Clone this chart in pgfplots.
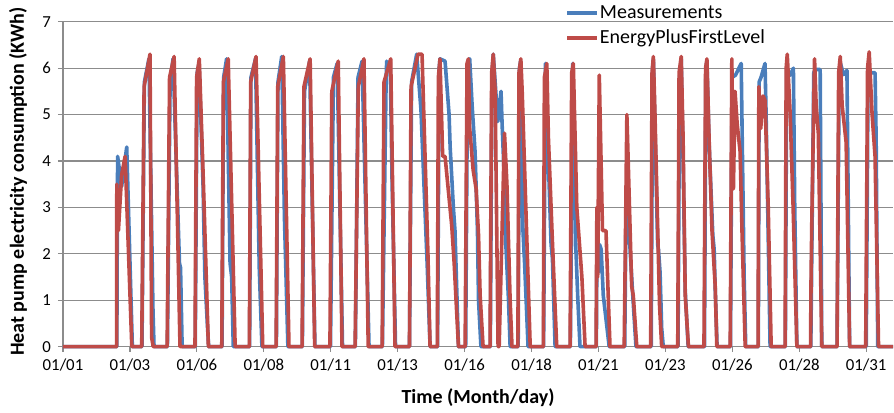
\documentclass[border=0pt]{standalone}
\usepackage{fontspec}
\setmainfont{Carlito}
\usepackage{pgfplots}
\pgfplotsset{compat=1.18}
\usepackage{pgfplotstable}
\definecolor{meas}{HTML}{4A7EBB}
\definecolor{eplus}{HTML}{BE4B48}
\definecolor{gridgray}{HTML}{8C8C8C}

% day of January (0 = 01/01 00:00), hourly energy in kWh
\pgfplotstableread{
day kwh
0 0
2.01 0
2.04 4.1
2.19 3.45
2.38 4.3
2.59 0
2.95 0
3.04 5.7
3.21 6.2
3.36 0.8
3.40 0
3.90 0
4.00 5.7
4.11 6.2
4.35 1.8
4.39 1.7
4.45 0
4.94 0
5.01 5.9
5.08 6.1
5.23 3.5
5.30 1.5
5.39 0.5
5.44 0
5.94 0
6.00 5.8
6.11 6.2
6.24 1.8
6.30 1.5
6.36 0
6.97 0
7.02 5.8
7.19 6.2
7.33 1.7
7.43 0
7.97 0
8.03 5.7
8.17 6.25
8.27 2.8
8.40 0
8.94 0
9.02 5.5
9.21 6.15
9.41 0
9.99 0
10.10 5.8
10.24 6.1
10.44 0
10.92 0
11.02 5.8
11.17 6.15
11.43 0
11.93 0
12.07 5.8
12.09 6.15
12.14 6.0
12.22 6.15
12.29 3.6
12.42 0
12.94 0
13.02 5.7
13.21 6.3
13.37 5.1
13.60 1.8
13.71 0
13.99 0
14.05 6.0
14.08 6.2
14.27 6.15
14.42 5.0
14.46 4.3
14.58 3.0
14.64 2.5
14.77 0
15.04 0
15.11 6.0
15.19 6.2
15.28 5.2
15.39 4.2
15.48 2.5
15.52 1.0
15.61 0
15.96 0
16.02 5.8
16.07 6.3
16.24 4.85
16.36 5.5
16.40 4.8
16.49 3.5
16.54 2.2
16.64 1.0
16.70 0
17.00 0
17.05 6.0
17.09 6.15
17.18 2.5
17.24 1.8
17.37 0
17.95 0
18.02 6.1
18.10 4.5
18.23 2.2
18.28 1.9
18.38 0
18.95 0
19.04 6.1
19.15 2.2
19.23 1.0
19.31 0
19.92 0
19.95 2.9
19.99 1.6
20.04 2.2
20.10 2.1
20.18 1.1
20.28 0.6
20.40 0
20.98 0
21.03 3.0
21.07 3.5
21.14 2.5
21.26 1.3
21.40 0
21.97 0
22.02 6.0
22.05 6.2
22.21 2.2
22.24 2.1
22.30 1.6
22.36 0.4
22.42 0
22.97 0
23.03 5.8
23.09 6.2
23.16 4.0
23.24 1.2
23.35 0
23.96 0
24.01 6.0
24.05 6.15
24.13 4.4
24.27 2.4
24.32 2.1
24.36 1.25
24.43 0
24.93 0
24.99 5.8
25.12 5.85
25.33 6.1
25.38 4.0
25.44 1.5
25.50 0
25.97 0
26.00 5.7
26.07 5.8
26.22 6.1
26.26 5.0
26.41 0
26.98 0
27.03 6.0
27.08 5.9
27.16 5.85
27.28 6.0
27.33 3.0
27.41 0
27.93 0
28.04 5.9
28.09 5.97
28.28 5.97
28.34 0
28.91 0
28.99 5.9
29.04 6.1
29.15 5.86
29.28 5.95
29.38 0
30.00 0
30.07 5.9
30.15 5.9
30.33 5.9
30.37 4.5
30.43 0
31 0
}\measured

\pgfplotstableread{
day kwh
0 0
2.00 0
2.01 3.5
2.07 2.5
2.19 3.7
2.32 4.1
2.57 0
2.94 0
3.03 5.6
3.25 6.3
3.31 0.2
3.37 0
3.89 0
3.98 5.8
4.15 6.25
4.37 0
4.93 0
4.99 5.8
5.09 6.2
5.24 3.6
5.43 0
5.93 0
5.99 5.7
6.17 6.2
6.43 0
6.96 0
7.01 5.7
7.21 6.25
7.46 0
7.96 0
8.02 5.6
8.23 6.25
8.44 0
8.93 0
9.00 5.6
9.23 6.2
9.40 0
9.97 0
10.04 5.5
10.28 6.15
10.42 0
10.91 0
11.03 5.6
11.24 6.2
11.40 0
11.92 0
11.99 5.7
12.24 6.2
12.40 0
12.94 0
13.00 5.6
13.26 6.3
13.41 6.3
13.63 2.0
13.71 0
13.98 0
14.02 5.8
14.08 6.2
14.18 4.1
14.27 4.1
14.52 2.6
14.61 1.8
14.77 0
15.02 0
15.09 6.1
15.14 6.2
15.19 4.7
15.32 3.8
15.43 3.4
15.52 2.4
15.58 1.1
15.69 0
15.95 0
16.01 5.9
16.07 6.3
16.14 5.5
16.25 0
16.29 0
16.49 4.6
16.58 3.5
16.70 1.0
16.77 0
16.99 0
17.03 5.9
17.10 6.2
17.15 5.5
17.45 0
17.94 0
17.98 5.8
18.07 6.1
18.13 4.5
18.27 2.4
18.44 0
18.94 0
19.00 5.9
19.06 6.1
19.19 3.0
19.38 1.5
19.50 0
19.91 0
19.94 3.0
19.97 1.5
20.03 5.85
20.15 2.5
20.28 2.5
20.43 0
20.96 0
21.06 5.0
21.11 4.0
21.24 1.3
21.30 1.1
21.43 0
21.95 0
22.00 5.9
22.05 6.25
22.11 5.0
22.28 0.9
22.36 0
22.96 0
23.01 5.9
23.09 6.25
23.16 4.5
23.24 1.1
23.36 0
23.94 0
24.00 6.0
24.05 6.2
24.13 4.5
24.24 2.5
24.36 1.3
24.42 0
24.92 0
24.98 6.2
25.04 3.4
25.10 5.5
25.18 4.8
25.29 4.2
25.36 2.5
25.48 0
25.96 0
25.99 5.6
26.06 4.7
26.15 5.4
26.22 5.3
26.34 3.0
26.45 0
26.97 0
27.01 6.0
27.05 6.3
27.16 5.0
27.27 3.0
27.41 0
27.92 0
27.94 1.5
27.97 2.8
28.07 6.2
28.13 5.2
28.21 4.6
28.34 0
28.91 0
28.97 5.9
29.03 6.25
29.10 5.2
29.25 4.4
29.38 0
29.98 0
30.05 6.0
30.11 6.35
30.22 5.0
30.33 4.1
30.46 0
31 0
}\eplusfirst

\begin{document}
\begin{tikzpicture}
\begin{axis}[
    scale only axis,
    width=415pt,
    height=162.5pt,
    xmin=0, xmax=31,
    ymin=0, ymax=7,
    clip=false,
    axis lines=left,
    axis line style={-, draw=gridgray, line width=0.6pt},
    xtick={0,2.5,5,7.5,10,12.5,15,17.5,20,22.5,25,27.5,30},
    xticklabels={01/01,01/03,01/06,01/08,01/11,01/13,01/16,01/18,01/21,01/23,01/26,01/28,01/31},
    ytick={0,1,2,3,4,5,6,7},
    ymajorgrids,
    grid style={draw=gridgray, line width=0.6pt},
    tick align=outside,
    major tick length=2.5pt,
    tick style={draw=gridgray, line width=0.6pt},
    tick label style={font=\fontsize{8.4}{10}\selectfont},
    /pgf/number format/assume math mode=true,
    xlabel={Time (Month/day)},
    ylabel={Heat pump electricity consumption (KWh)},
    label style={font=\bfseries\fontsize{10}{12}\selectfont},
    xlabel style={at={(axis description cs:0.5,0)}, anchor=center, yshift=-25.6pt},
    ylabel style={at={(axis description cs:-0.0542,0.508)}, anchor=center},
    legend style={at={(0.6048,0.988)}, anchor=west, draw=none, fill=none,
        inner sep=0pt, row sep=2.5pt, column sep=0pt,
        nodes={inner sep=0.5pt, text height=7pt, text depth=2pt},
        font=\fontsize{10}{12}\selectfont},
    legend cell align=left,
    legend image code/.code={\draw[#1] (0pt,0pt) -- (15pt,0pt);},
]
\addplot[meas, line width=1.8pt, line join=round] table[x=day, y=kwh] {\measured};
\addplot[eplus, line width=1.8pt, line join=round] table[x=day, y=kwh] {\eplusfirst};
\legend{Measurements, EnergyPlusFirstLevel}
\coordinate (sw) at (rel axis cs:0,0);
\coordinate (ne) at (rel axis cs:1,1);
\end{axis}
\pgfresetboundingbox
\path[use as bounding box] ([shift={(-31.5pt,-33.15pt)}]sw) rectangle ([shift={(0.5pt,10.85pt)}]ne);
\end{tikzpicture}
\end{document}
